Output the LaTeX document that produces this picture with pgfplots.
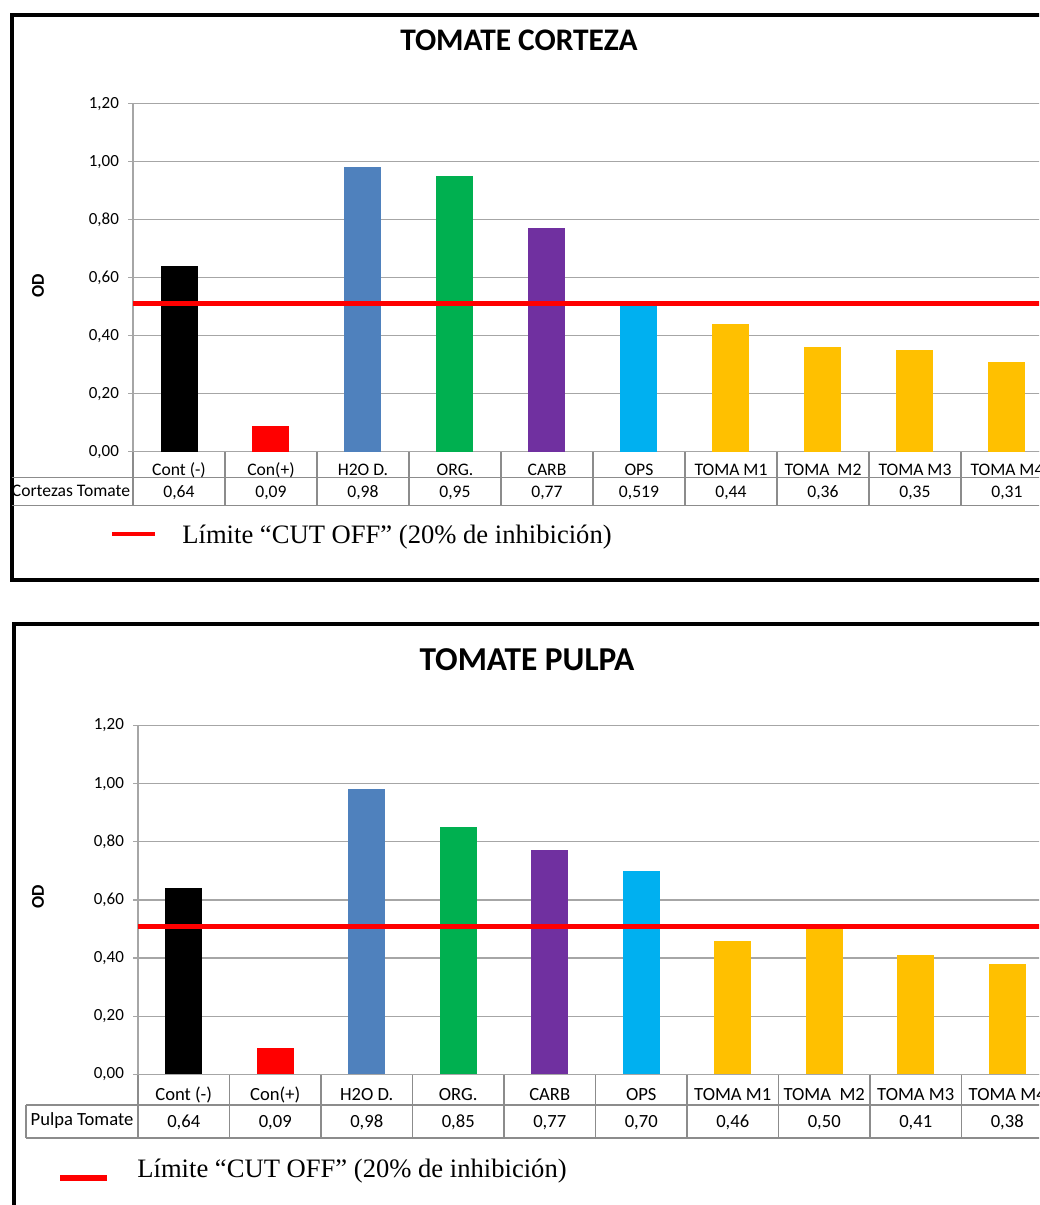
\documentclass[border=0pt]{standalone}
\usepackage{fontspec}
\setmainfont{Carlito}
\newfontfamily\timesfont{Liberation Serif}
\usepackage{pgfplots}
\pgfplotsset{compat=1.18}
\usepackage{pgfplotstable}

% bar colours, one per category
\definecolor{c0}{RGB}{0,0,0}
\definecolor{c1}{RGB}{255,0,0}
\definecolor{c2}{RGB}{79,129,189}
\definecolor{c3}{RGB}{0,176,80}
\definecolor{c4}{RGB}{112,48,160}
\definecolor{c5}{RGB}{0,176,240}
\definecolor{c6}{RGB}{255,192,0}
\definecolor{c7}{RGB}{255,192,0}
\definecolor{c8}{RGB}{255,192,0}
\definecolor{c9}{RGB}{255,192,0}
\colorlet{gridgray}{black!35}
\colorlet{tabgray}{black!45}

\pgfplotstableread[col sep=semicolon]{
x;v;lbl;cat
0;0.64;0,64;Cont (-)
1;0.09;0,09;Con(+)
2;0.98;0,98;H2O D.
3;0.95;0,95;ORG.
4;0.77;0,77;CARB
5;0.519;0,519;OPS
6;0.44;0,44;TOMA M1
7;0.36;0,36;TOMA\ \ M2
8;0.35;0,35;TOMA M3
9;0.31;0,31;TOMA M4
}\corteza

\pgfplotstableread[col sep=semicolon]{
x;v;lbl;cat
0;0.64;0,64;Cont (-)
1;0.09;0,09;Con(+)
2;0.98;0,98;H2O D.
3;0.85;0,85;ORG.
4;0.77;0,77;CARB
5;0.70;0,70;OPS
6;0.46;0,46;TOMA M1
7;0.50;0,50;TOMA\ \ M2
8;0.41;0,41;TOMA M3
9;0.38;0,38;TOMA M4
}\pulpa

\newcommand{\tickfont}{\fontsize{8.5}{10}\selectfont}
\newcommand{\cellfontA}{\fontsize{8.8}{10}\selectfont}
\newcommand{\cellfontB}{\fontsize{9.3}{11}\selectfont}
\newcommand{\legendfont}{\timesfont\fontsize{13.3}{15}\selectfont}

\pgfplotsset{
  panel/.style={
    scale only axis, anchor=south west, clip=false,
    xmin=-0.5, xmax=9.5, ymin=0, ymax=1.2,
    ytick={0,0.2,0.4,0.6,0.8,1.0,1.2},
    xtick={0,...,9},
    ymajorgrids, grid style={gridgray, line width=0.6pt},
    axis x line*=bottom, axis y line*=left,
    axis line style={gridgray, line width=0.6pt, -},
    major x tick style={draw=none},
    ytick style={gridgray, line width=0.6pt},
    major tick length=2.5pt, tick align=outside,
    yticklabel style={font=\tickfont, anchor=east, xshift=-1pt},
    xticklabel style={anchor=center, text height=1.6ex, text depth=0.45ex},
    /pgf/number format/use comma,
    /pgf/number format/fixed,
    /pgf/number format/fixed zerofill,
    /pgf/number format/precision=2,
    /pgf/number format/assume math mode=true,
  },
  valrow/.style={draw=none, mark=none, nodes near coords, point meta=explicit symbolic,
    nodes near coords align={center},
    every node near coord/.append style={anchor=center, font=#1, text height=1.6ex, text depth=0.45ex}},
}

\begin{document}
\begin{tikzpicture}
\useasboundingbox (0,0) rectangle (519.5pt,-602.5pt);
\clip (0,0) rectangle (519.5pt,-602.5pt);

% ---------- frames, titles, table rules and legends (1 unit = one pixel)
\begin{scope}[x=0.5pt, y=-0.5pt]
  % upper panel
  \draw[line width=2pt] (11.5,15) rectangle (1075,580);
  \node[font=\bfseries\fontsize{15.7}{18}\selectfont] at (519,40) {TOMATE CORTEZA};
  \node[font=\bfseries\fontsize{9}{10}\selectfont, rotate=90] at (38,286) {OD};
  \foreach \k in {0,...,10} \draw[tabgray, line width=0.6pt] (133+92*\k,451) -- (133+92*\k,505);
  \draw[tabgray, line width=0.6pt] (12,477.5) -- (1075,477.5);
  \draw[tabgray, line width=0.6pt] (12,505.5) -- (1075,505.5);
  \node[font=\cellfontA] at (71,491) {Cortezas Tomate};
  \draw[red, line width=2.2pt] (112,534) -- (155,534);
  \node[anchor=west, inner sep=0pt, font=\legendfont] at (182,537) {Límite “CUT OFF” (20\% de inhibición)};

  % lower panel
  \draw[line width=2pt] (14,624) rectangle (1075,1240);
  \node[font=\bfseries\fontsize{16.7}{19}\selectfont] at (527,660) {TOMATE PULPA};
  \node[font=\bfseries\fontsize{9}{10}\selectfont, rotate=90] at (38,897) {OD};
  \foreach \k in {0,...,10} \draw[tabgray, line width=0.6pt] (138+91.5*\k,1074) -- (138+91.5*\k,1138);
  \draw[tabgray, line width=0.6pt] (26,1105) -- (1075,1105);
  \draw[tabgray, line width=0.6pt] (26,1138) -- (1075,1138);
  \draw[tabgray, line width=0.6pt] (26,1105) -- (26,1138);
  \node[font=\cellfontB] at (82,1121) {Pulpa Tomate};
  \draw[red, line width=3pt] (60,1178) -- (107,1178);
  \node[anchor=west, inner sep=0pt, font=\legendfont] at (137,1171) {Límite “CUT OFF” (20\% de inhibición)};
\end{scope}

% ---------- TOMATE CORTEZA
\begin{axis}[panel, at={(66.5pt,-225.8pt)}, width=460pt, height=174pt,
  xticklabels from table={\corteza}{cat},
  xticklabel style={font=\cellfontA, yshift=-6.5pt}]
  \pgfplotsinvokeforeach{0,...,9}{
    \addplot[ybar, bar width=18.5pt, bar shift=0pt, fill=c#1, draw=none,
      restrict x to domain=#1:#1] table[x=x, y=v] {\corteza};
  }
  \addplot[red, line width=2.3pt] coordinates {(-0.5,0.51) (9.5,0.51)};
  \addplot[valrow=\cellfontA] table[x=x, y expr=-0.138, meta=lbl] {\corteza};
\end{axis}

% ---------- TOMATE PULPA
\begin{axis}[panel, at={(69pt,-537.2pt)}, width=457.5pt, height=174.5pt,
  xticklabels from table={\pulpa}{cat},
  xticklabel style={font=\cellfontB, yshift=-7.7pt}]
  \pgfplotsinvokeforeach{0,...,9}{
    \addplot[ybar, bar width=18.5pt, bar shift=0pt, fill=c#1, draw=none,
      restrict x to domain=#1:#1] table[x=x, y=v] {\pulpa};
  }
  \addplot[red, line width=2.5pt] coordinates {(-0.5,0.51) (9.5,0.51)};
  \addplot[valrow=\cellfontB] table[x=x, y expr=-0.163, meta=lbl] {\pulpa};
\end{axis}
\end{tikzpicture}
\end{document}
